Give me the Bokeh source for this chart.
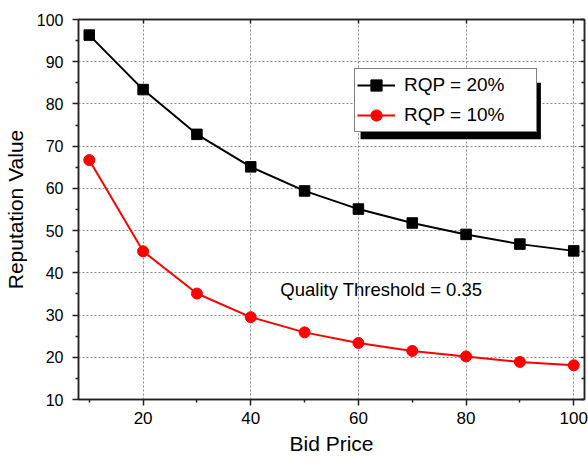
from bokeh.plotting import figure
from bokeh.models import (FixedTicker, LinearAxis, Legend, LegendItem, Label,
                          BoxAnnotation, Range1d, CustomJSTickFormatter)
from bokeh.embed import file_html
from bokeh.resources import INLINE

bid_price = [10, 20, 30, 40, 50, 60, 70, 80, 90, 100]
rqp_20 = [96.3, 83.4, 72.8, 65.1, 59.4, 55.1, 51.8, 49.1, 46.8, 45.2]
rqp_10 = [66.7, 45.1, 35.1, 29.5, 25.9, 23.4, 21.5, 20.2, 18.9, 18.1]
series_labels = ["RQP = 20%", "RQP = 10%"]
x_ticks = [20, 40, 60, 80, 100]
x_minor = [10, 30, 50, 70, 90]
y_ticks = [10, 20, 30, 40, 50, 60, 70, 80, 90, 100]
y_minor = [15, 25, 35, 45, 55, 65, 75, 85, 95]
note = "Quality Threshold = 0.35"

FONT = "Liberation Sans"

p = figure(frame_width=506, frame_height=380,
           x_range=Range1d(8, 102), y_range=Range1d(10, 100),
           output_backend="svg", toolbar_location=None,
           min_border_left=77, min_border_right=5,
           min_border_top=19, min_border_bottom=63,
           background_fill_color="white", border_fill_color="white")

p.outline_line_color = "#222222"
p.outline_line_width = 1.5

xt = FixedTicker(ticks=x_ticks, minor_ticks=x_minor)
yt = FixedTicker(ticks=y_ticks, minor_ticks=y_minor)

for ax in p.xaxis:
    ax.ticker = xt
for ax in p.yaxis:
    ax.ticker = yt

p.xaxis.axis_label = "Bid Price"
p.yaxis.axis_label = "Reputation Value"
for ax in list(p.xaxis) + list(p.yaxis):
    ax.axis_label_text_font = FONT
    ax.axis_label_text_font_size = "21px"
    ax.axis_label_text_font_style = "normal"
    ax.axis_label_text_color = "black"
    ax.major_label_text_font = FONT
    ax.major_label_text_color = "black"
    ax.axis_line_color = "#222222"
    ax.axis_line_width = 1.5
    ax.major_tick_line_color = "#222222"
    ax.minor_tick_line_color = "#222222"
    ax.major_tick_line_width = 1.5
    ax.minor_tick_line_width = 1.5
    ax.major_tick_in = 0
    ax.major_tick_out = 6
    ax.minor_tick_in = 0
    ax.minor_tick_out = 3
p.xaxis.major_label_text_font_size = "17px"
p.yaxis.major_label_text_font_size = "16px"
p.xaxis.major_label_standoff = 6
p.xaxis.axis_label_standoff = 5
p.yaxis.major_label_standoff = 9
p.yaxis.axis_label_standoff = 7

# mirrored axes (top and right) with inward ticks and no labels
blank = CustomJSTickFormatter(code="return ''")
top = LinearAxis(ticker=xt, formatter=blank,
                 major_tick_in=4, major_tick_out=0, minor_tick_in=0, minor_tick_out=0,
                 axis_line_color="#222222", axis_line_width=1.5,
                 major_tick_line_color="#222222", major_tick_line_width=1.5,
                 major_label_standoff=0)
right = LinearAxis(ticker=yt, formatter=blank,
                   major_tick_in=4, major_tick_out=0, minor_tick_in=3, minor_tick_out=0,
                   axis_line_color="#222222", axis_line_width=1.5,
                   major_tick_line_color="#222222", major_tick_line_width=1.5,
                   minor_tick_line_color="#222222", minor_tick_line_width=1.5,
                   major_label_standoff=0)
p.add_layout(top, "above")
p.add_layout(right, "right")

p.xgrid.grid_line_color = "#8a8a8a"
p.xgrid.grid_line_dash = "2 2"
p.xgrid.grid_line_width = 1
p.ygrid.grid_line_color = "#8a8a8a"
p.ygrid.grid_line_dash = "2 2"
p.ygrid.grid_line_width = 1
p.xgrid.ticker = xt
p.ygrid.ticker = yt

l1 = p.line(bid_price, rqp_20, line_color="black", line_width=2)
s1 = p.scatter(bid_price, rqp_20, marker="square", size=10.5,
               fill_color="black", line_color="black")
l2 = p.line(bid_price, rqp_10, line_color="#ff0000", line_width=2)
s2 = p.scatter(bid_price, rqp_10, marker="circle", size=11,
               fill_color="#ff0000", line_color="#ff0000")

p.add_layout(Label(x=45.5, y=36.1, text=note, text_font=FONT,
                   text_font_size="18.5px", text_color="black",
                   text_align="left", text_baseline="middle"))

# legend drop shadow
p.add_layout(BoxAnnotation(left=60.4, right=93.9, top=85.0, bottom=71.65,
                           fill_color="black", fill_alpha=1.0, line_color=None))

legend = Legend(items=[LegendItem(label=series_labels[0], renderers=[l1, s1]),
                       LegendItem(label=series_labels[1], renderers=[l2, s2])],
                location=(276, 267), orientation="vertical",
                border_line_color="black", border_line_width=1.5,
                background_fill_color="white", background_fill_alpha=1.0,
                padding=2, margin=0, spacing=2,
                glyph_width=38, glyph_height=28, label_height=28,
                label_width=130, label_standoff=9,
                label_text_font=FONT, label_text_font_size="19px",
                label_text_color="black")
p.add_layout(legend, "center")

open("out.html", "w").write(file_html(p, INLINE))
